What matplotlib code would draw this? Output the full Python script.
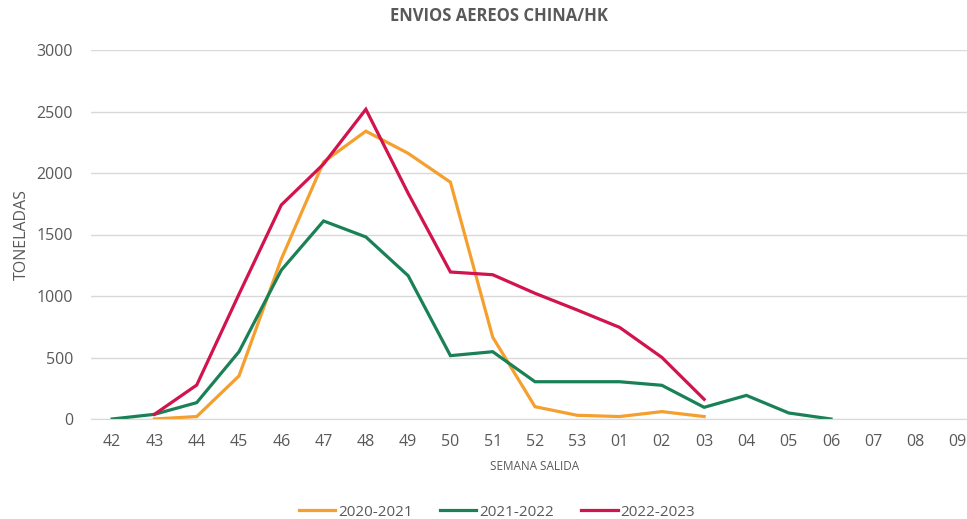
import numpy as np
import matplotlib
matplotlib.use("Agg")
import matplotlib.pyplot as plt

# Weeks of departure (categories)
semanas = ["42", "43", "44", "45", "46", "47", "48", "49", "50", "51", "52", "53",
           "01", "02", "03", "04", "05", "06", "07", "08", "09"]

# Tonnes per week, None where the season has no data
t_2020_2021 = [None, 0, 20, 350, 1300, 2090, 2340, 2160, 1925, 665, 100, 30,
               20, 60, 20, None, None, None, None, None, None]
t_2021_2022 = [0, 38, 133, 547, 1210, 1610, 1480, 1165, 515, 547, 303, 303,
               303, 274, 95, 192, 49, 0, None, None, None]
t_2022_2023 = [None, 38, 276, 1015, 1740, 2073, 2518, 1835, 1195, 1173, 1022, 886,
               745, 501, 160, None, None, None, None, None, None]

series = [("2020-2021", t_2020_2021, "#F59F2E"),
          ("2021-2022", t_2021_2022, "#1A8157"),
          ("2022-2023", t_2022_2023, "#D1134E")]

plt.rcParams['font.family'] = ['Open Sans', 'DejaVu Sans']
gris = "#595959"

fig = plt.figure(figsize=(9.67, 5.19), dpi=100)
W, H = 967, 519
# plot area (pixels): x 91..979 (runs past the right edge), y 50..419
ax = fig.add_axes([91 / W, (H - 419) / H, 888 / W, 369 / H])

x = np.arange(len(semanas))
for nombre, valores, color in series:
    y = np.array([np.nan if v is None else v for v in valores], dtype=float)
    ax.plot(x, y, color=color, lw=2.3, label=nombre, solid_joinstyle="miter")

ax.set_xlim(-0.5, len(semanas) - 0.5)
ax.set_ylim(0, 3000)
ax.set_yticks(range(0, 3001, 500))
ax.set_xticks(x)
ax.set_xticklabels(semanas)

ax.grid(axis="y", color="#D9D9D9", lw=1)
ax.set_axisbelow(True)
for s in ["top", "right", "left"]:
    ax.spines[s].set_visible(False)
ax.spines["bottom"].set_color("#D9D9D9")
ax.tick_params(length=0, colors=gris, labelsize=11.5)
ax.tick_params(axis="x", pad=11)
ax.tick_params(axis="y", pad=13)

ax.set_ylabel("TONELADAS", color=gris, fontsize=11.5, labelpad=5)
fig.text(535 / W, 1 - 466 / H, "SEMANA SALIDA", color=gris, fontsize=8.5,
         ha="center", va="center")
fig.text(499 / W, 1 - 16 / H, "ENVIOS AEREOS CHINA/HK", color=gris, fontsize=12,
         fontweight="bold", ha="center", va="center")

fig.legend(loc="center", bbox_to_anchor=(497 / W, 1 - 512 / H), ncol=3,
           frameon=False, fontsize=11, labelcolor=gris, handlelength=2.4,
           handletextpad=0.2, columnspacing=1.75)

fig.savefig("out.png", dpi=100)
